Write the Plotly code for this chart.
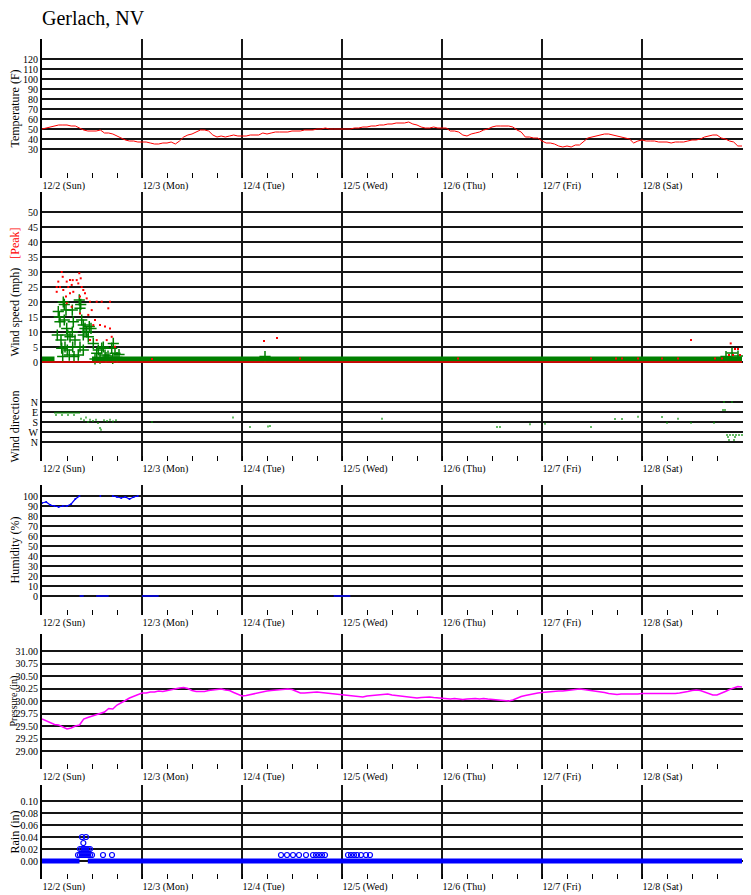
import pandas as pd
import plotly.graph_objects as go

START = pd.Timestamp("2018-12-02 00:00")


def hourly(*days):
    # one string per day, one reading per hour, "-" = no reading
    vals = []
    for d in days:
        vals += [None if v == "-" else float(v) for v in d.split()]
    return vals


def at(hours):
    return START + pd.to_timedelta(hours, unit="h")


EMPTY = "- - - - - - - - - - - - - - - - - - - - - - - -"
ZEROS = "0 0 0 0 0 0 0 0 0 0 0 0 0 0 0 0 0 0 0 0 0 0 0 0"
ONES = "1 1 1 1 1 1 1 1 1 1 1 1 1 1 1 1 1 1 1 1 1 1 1 1"

temperature = hourly(
    "50 51 52 53 54 54 54 53 53 51 49 48 48 48 49 46 46 45 43 41 39 38 38 37",
    "37 37 36 35 35 36 36 37 35 38 42 44 45 47 49 49 48 44 42 43 42 43 44 43",
    "43 43 44 44 44 46 45 46 47 47 47 47 48 48 48 49 49 49 50 50 51 50 50 50",
    "50 50 50 51 51 52 52 53 53 54 54 55 55 56 56 56 57 55 54 52 51 51 52 51",
    "51 51 48 48 47 44 43 45 46 47 49 50 52 53 53 53 53 52 49 47 42 42 41 41",
    "38 36 36 35 33 32 33 32 34 34 38 41 42 43 44 45 45 44 43 42 41 40 36 38",
    "39 38 38 38 37 37 37 36 37 37 37 38 39 39 40 42 43 44 44 41 40 38 37 33 33",
)

pressure = hourly(
    "29.64 29.60 29.57 29.53 29.52 29.48 29.44 29.46 29.50 29.52 29.64 29.67 "
    "29.70 29.73 29.75 29.78 29.85 29.84 29.92 29.96 30.01 30.06 30.09 30.12",
    "30.16 30.16 30.18 30.18 30.20 30.19 30.21 30.23 30.25 30.26 30.27 30.25 "
    "30.21 30.19 30.19 30.19 30.21 30.22 30.23 30.24 30.22 30.21 30.17 30.14",
    "30.10 30.11 30.13 30.15 30.17 30.18 30.20 30.21 30.22 30.23 30.24 30.24 "
    "30.23 30.19 30.16 30.16 30.17 30.18 30.18 30.17 30.16 30.16 30.15 30.14",
    "30.12 30.11 30.10 30.10 30.09 30.08 30.10 30.11 30.12 30.13 30.14 30.14 "
    "30.12 30.11 30.10 30.09 30.08 30.07 30.06 30.07 30.08 30.08 30.07 30.06",
    "30.05 30.04 30.04 30.05 30.04 30.03 30.04 30.05 30.05 30.04 30.05 30.04 "
    "30.03 30.02 30.01 30.00 30.00 30.02 30.06 30.09 30.11 30.13 30.15 30.16",
    "30.17 30.18 30.18 30.19 30.20 30.20 30.21 30.22 30.23 30.24 30.23 30.22 "
    "30.20 30.19 30.18 30.17 30.15 30.14 30.13 30.14 30.14 30.13 30.14 30.14",
    "30.15 30.15 30.14 30.14 30.15 30.15 30.14 30.14 30.15 30.16 30.17 30.19 "
    "30.21 30.22 30.21 30.18 30.14 30.12 30.12 30.15 30.19 30.23 30.26 30.29 30.28",
)

humidity = hourly(
    "93 94 91 90 89 90 90 92 97 100 - - - - 100 - - 100 99 98 99 97 99 100",
    EMPTY, EMPTY, EMPTY, EMPTY, EMPTY, EMPTY + " -",
)
# sensor dropouts reported as 0 %
humidity_zero = hourly(
    "- - - - - - - - - 0 0 - - 0 0 0 0 - - - - - - -",
    "0 0 0 0 0 - - - - - - - - - - - - - - - - - - -",
    "- - - - - - - - - - - - - - - - - - - - - - 0 0",
    "0 0 0 - - - - - - - - - - - - - - - - - - - - -",
    EMPTY, EMPTY, EMPTY + " -",
)

wind_base = hourly(
    "1 1 1 1 - - - - - - - - 1 1 1 1 1 1 1 1 1 1 1 1",
    ONES, ONES, ONES, ONES, ONES, ONES + " 1",
)
peak_base = hourly(ZEROS, ZEROS, ZEROS, ZEROS, ZEROS, ZEROS, ZEROS + " 0")
rain_base = hourly(
    "0 0 0 0 0 0 0 0 0 0 - 0 0 0 0 0 0 0 0 0 0 0 0 0",
    ZEROS, ZEROS, ZEROS, ZEROS, ZEROS, ZEROS + " 0",
)

# irregular readings: hours after 12/2 00:00
wind_ev_h = [3.91, 4.15, 4.32, 3.67, 4.56, 4.73, 4.97, 5.11, 5.35, 5.76, 5.35, 5.93,
             6.17, 6.72, 5.52, 6.07, 6.55, 7.27, 7.51, 7.27, 7.92, 7.37, 7.68, 8.95,
             9.29, 9.12, 9.53, 9.91, 10.32, 9.91, 10.73, 11.11, 9.12, 9.91, 8.71, 11.35,
             11.76, 12.31, 13.13, 13.51, 14.33, 14.71, 15.12, 16.73, 17.11, 17.52, 16.97,
             13.92, 15.36, 15.84, 18.0, 18.48, 12.72, 53.52, 164.16, 165.6, 167.04]
wind_ev_v = [16.8, 15, 13.4, 9, 7.3, 4.6, 1.8, 20, 19.2, 17.3, 14, 11.2,
             9, 8.4, 5, 4, 2.3, 17.3, 13.4, 10, 7.3, 5, 1.8, 20.7,
             19.2, 17.9, 14, 12.3, 11.2, 9, 10, 8.4, 5, 4, 2.3, 11.8,
             11.2, 6.2, 2.9, 4, 4.6, 5, 2.3, 4.6, 6.2, 2.9, 1.2,
             1.3, 1.5, 2, 1.5, 2.5, 1, 1.8, 1.8, 3, 2]

peak_ev_h = [4.73, 4.97, 3.91, 3.53, 4.32, 5.11, 3.53, 5.93, 6.31, 6.72, 7.13, 7.37,
             6.72, 5.76, 7.51, 8.33, 8.95, 9.29, 8.71, 9.53, 9.91, 9.12, 10.32, 10.73,
             11.52, 13.13, 11.93, 11.11, 12.72, 13.92, 14.33, 16.32, 15.91, 15.12, 16.32,
             16.73, 15.53, 13.13, 11.52, 9.12, 7.13, 5.93, 12.31, 17.52, 26.4, 53.28,
             56.4, 61.92, 99.84, 131.76, 137.76, 139.2, 143.04, 148.8, 152.64, 155.76,
             161.52, 163.2, 164.88, 165.29, 165.84, 166.32, 167.04, 167.52]
peak_ev_v = [30, 28.4, 26.8, 25, 25, 24, 23.4, 26.8, 25, 27.3, 25.7, 27.3,
             22.9, 21.8, 23.4, 27.3, 29.6, 27.9, 26.2, 25, 24, 21.8, 22.9, 21.2,
             20.1, 20.1, 17.3, 15.7, 14, 12.3, 20.1, 20.1, 17.9, 11.8, 11.2,
             8.4, 7.3, 7.3, 7.3, 16.2, 18.4, 19.6, 12.3, 5.1, 1, 7,
             8, 1.2, 1.2, 1.2, 1.2, 1.2, 1.2, 1.2, 1.2, 7.3,
             1.2, 1.2, 2.3, 6.2, 2.3, 4.3, 4.3, 2.3]

dir_h = [3.12, 3.6, 4.08, 4.56, 5.04, 5.52, 6.0, 6.48, 6.96, 7.44, 7.92, 8.4, 8.88,
         3.36, 4.8, 6.24, 7.68, 9.36, 10.08, 10.56, 11.04, 11.52, 12.24, 12.96, 13.44,
         13.92, 14.16, 14.88, 15.6, 16.32, 17.04, 17.76, 26.4, 45.84, 49.92, 54.24,
         54.72, 81.6, 109.2, 109.92, 117.12, 120.72, 131.76, 137.52, 139.2, 143.04,
         148.8, 150.0, 152.64, 155.76, 161.28, 163.68, 165.6, 163.44, 163.92, 164.4,
         165.12, 165.84, 166.56, 167.28, 168.0, 164.64, 166.32, 164.88, 166.08]
dir_deg = [96, 96, 96, 96, 96, 96, 96, 96, 96, 96, 96, 96, 96,
           117, 117, 117, 117, 150, 165, 140, 180, 160, 170, 160, 190,
           235, 250, 165, 170, 160, 175, 165, 180, 140, 225, 220,
           215, 150, 225, 225, 200, 195, 225, 153, 153, 132,
           135, 186, 150, 186, 186, 0, 0, 72, 72, 297,
           297, 297, 297, 297, 297, 315, 315, 342, 342]

rain_ev_h = [8.64, 9.12, 9.6, 10.08, 10.56, 11.04, 11.52, 12.0, 14.64, 16.8,
             9.12, 9.6, 10.08, 10.56, 11.04, 11.52, 9.92, 9.6, 10.56,
             57.36, 58.8, 60.24, 61.68, 63.36, 65.04, 65.76, 66.48, 67.2, 67.92,
             73.44, 74.16, 74.88, 75.6, 76.56, 77.76, 78.72]
rain_ev_v = [0.01, 0.01, 0.01, 0.01, 0.01, 0.01, 0.01, 0.01, 0.01, 0.01,
             0.02, 0.02, 0.02, 0.02, 0.02, 0.02, 0.03, 0.04, 0.04,
             0.01, 0.01, 0.01, 0.01, 0.01, 0.01, 0.01, 0.01, 0.01, 0.01,
             0.01, 0.01, 0.01, 0.01, 0.01, 0.01, 0.01]

for s in (temperature, pressure, humidity, humidity_zero, wind_base, peak_base, rain_base):
    assert len(s) == 169, len(s)
assert len(wind_ev_h) == len(wind_ev_v)
assert len(peak_ev_h) == len(peak_ev_v)
assert len(dir_h) == len(dir_deg)
assert len(rain_ev_h) == len(rain_ev_v)

hours = pd.date_range(START, periods=169, freq="h")
day_ticks = pd.date_range(START, periods=7, freq="D")
six_hour_ticks = pd.date_range(START, periods=28, freq="6h")
hour_ticks = pd.date_range(START, periods=169, freq="h")
x_range = [START, START + pd.Timedelta(days=7.09)]

FONT = "Liberation Serif"
GRID = "#151515"
# the page body adds an 8px margin, so the figure itself is 8px smaller each way
PAD = 8
W = 751 - PAD
H = 895 - PAD
LEFT = 42 - PAD


def dom(top, bottom):
    # pixel rows measured on the page -> paper fractions
    return [1 - (bottom - PAD) / H, 1 - (top - PAD) / H]


fig = go.Figure()

fig.add_trace(go.Scatter(x=hours, y=temperature, mode="lines",
                         line=dict(color="red", width=1), xaxis="x", yaxis="y"))

# calm readings are dense enough to merge into a solid band
fig.add_trace(go.Scatter(x=hours, y=wind_base, mode="lines", xaxis="x2", yaxis="y2",
                         line=dict(color="green", width=5)))
fig.add_trace(go.Scatter(x=at(wind_ev_h), y=wind_ev_v, mode="markers", xaxis="x2", yaxis="y2",
                         marker=dict(symbol="cross-thin-open", size=8, color="green",
                                     line=dict(color="green", width=1.5))))
fig.add_trace(go.Scatter(x=hours, y=peak_base, mode="lines", xaxis="x2", yaxis="y2",
                         line=dict(color="red", width=1.5)))
fig.add_trace(go.Scatter(x=at(peak_ev_h), y=peak_ev_v, mode="markers", xaxis="x2", yaxis="y2",
                         marker=dict(symbol="square", size=2, color="red")))
fig.add_trace(go.Scatter(x=at(dir_h), y=dir_deg, mode="markers", xaxis="x2", yaxis="y3",
                         marker=dict(symbol="square", size=2, color="rgba(0,140,0,0.6)")))

fig.add_trace(go.Scatter(x=hours, y=humidity, mode="lines+markers", xaxis="x3", yaxis="y4",
                         line=dict(color="blue", width=1.2),
                         marker=dict(size=2, color="blue")))
fig.add_trace(go.Scatter(x=hours, y=humidity_zero, mode="lines", xaxis="x3", yaxis="y4",
                         line=dict(color="blue", width=1.5)))

fig.add_trace(go.Scatter(x=hours, y=pressure, mode="lines", xaxis="x4", yaxis="y5",
                         line=dict(color="magenta", width=1.5)))

fig.add_trace(go.Scatter(x=hours, y=rain_base, mode="lines", xaxis="x5", yaxis="y6",
                         line=dict(color="blue", width=5)))
fig.add_trace(go.Scatter(x=at(rain_ev_h), y=rain_ev_v, mode="markers", xaxis="x5", yaxis="y6",
                         marker=dict(symbol="circle-open", size=5, color="blue",
                                     line=dict(color="blue", width=1.2))))

xcommon = dict(
    type="date", range=x_range, tickmode="array", tickvals=day_ticks,
    tickformat="%-m/%-d (%a)", ticklabelposition="outside right",
    showgrid=True, gridcolor=GRID, gridwidth=2, zeroline=False, showline=False,
    ticks="inside", ticklen=5, tickcolor="black", tickwidth=1,
    minor=dict(tickmode="array", tickvals=six_hour_ticks, ticks="inside",
               ticklen=5, tickwidth=1, tickcolor="black", showgrid=False),
    tickfont=dict(size=10),
)
xdots = dict(
    type="date", range=x_range, tickmode="array", tickvals=hour_ticks,
    ticks="inside", ticklen=2, tickwidth=1, tickcolor="black",
    showticklabels=False, showgrid=False, zeroline=False, side="bottom",
)
ycommon = dict(
    showgrid=True, gridcolor=GRID, gridwidth=2, zeroline=False,
    showline=True, linecolor="black", linewidth=2, ticks="",
    tickfont=dict(size=10), tickmode="array",
)

pressure_dom = dom(634, 769)

fig.update_layout(
    width=W, height=H,
    margin=dict(l=LEFT, r=0, t=0, b=0),
    paper_bgcolor="white", plot_bgcolor="white",
    font=dict(family=FONT, size=10, color="black"),
    showlegend=False,
    title=dict(text="Gerlach, NV", x=LEFT / W, xanchor="left",
               y=1 - (18 - PAD) / H, yanchor="middle", font=dict(size=20, family=FONT)),
    xaxis=dict(xcommon, anchor="y"),
    xaxis2=dict(xcommon, anchor="y3"),
    xaxis3=dict(xcommon, anchor="y4"),
    xaxis4=dict(xcommon, anchor="y5"),
    xaxis5=dict(xcommon, anchor="y6"),
    xaxis6=dict(xdots, overlaying="x", anchor="y"),
    xaxis7=dict(xdots, overlaying="x2", anchor="y3"),
    xaxis8=dict(xdots, overlaying="x3", anchor="y4"),
    xaxis9=dict(xdots, overlaying="x4", anchor="y5"),
    xaxis10=dict(xdots, overlaying="x5", anchor="y6"),
    yaxis=dict(ycommon, anchor="x", domain=dom(39, 178), range=[1, 140],
               tickvals=list(range(30, 130, 10)),
               title=dict(text="Temperature (F)", standoff=2)),
    yaxis2=dict(ycommon, anchor="x2", domain=dom(192, 392), range=[-10, 56.67],
                tickvals=list(range(0, 55, 5)),
                title=dict(text='Wind speed (mph)&nbsp;&nbsp;&nbsp;'
                                '<span style="color:red">[Peak]</span>', standoff=10)),
    yaxis3=dict(ycommon, anchor="x2", domain=dom(392, 461), range=[531, -90],
                tickvals=[0, 90, 180, 270, 360], ticktext=["N", "E", "S", "W", "N"],
                title=dict(text="Wind direction", standoff=8)),
    yaxis4=dict(ycommon, anchor="x3", domain=dom(485, 615), range=[-19, 111],
                tickvals=list(range(0, 110, 10)),
                title=dict(text="Humidity (%)", standoff=2)),
    yaxis5=dict(ycommon, anchor="x4", domain=pressure_dom, range=[28.64, 31.34],
                tickvals=[29 + 0.25 * i for i in range(9)], tickformat=".2f"),
    yaxis6=dict(ycommon, anchor="x5", domain=dom(785, 879), range=[-0.03, 0.1267],
                tickvals=[0, 0.02, 0.04, 0.06, 0.08, 0.10], tickformat=".2f",
                title=dict(text="Rain (in)", standoff=3)),
    # the pressure labels are wide, so its title sits hard against the page edge
    annotations=[dict(text="Pressure (in)", textangle=-90, showarrow=False,
                      xref="paper", yref="paper", x=(5 - LEFT) / (W - LEFT),
                      y=sum(pressure_dom) / 2, xanchor="center", yanchor="middle",
                      font=dict(size=10))],
)

fig.write_html("out.html")
